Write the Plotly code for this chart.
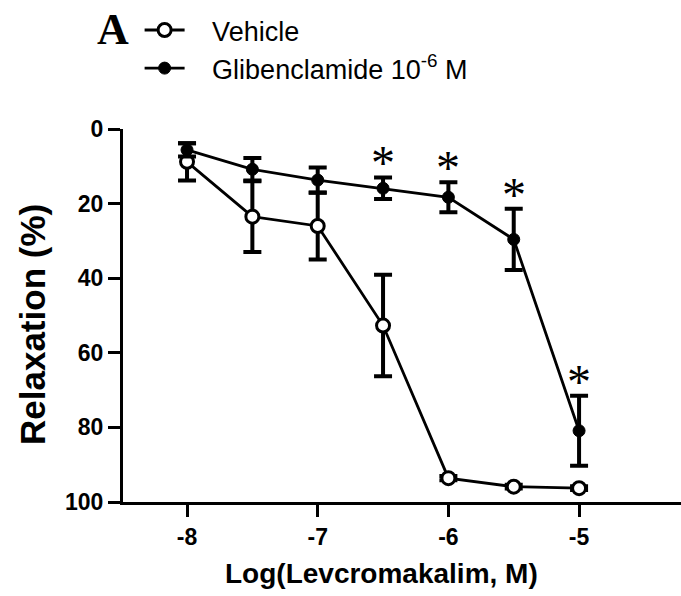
import plotly.graph_objects as go

# Data
log_dose = [-8, -7.5, -7, -6.5, -6, -5.5, -5]
vehicle_mean = [8.8, 23.5, 26.0, 52.7, 93.6, 95.9, 96.3]
vehicle_sem = [5.0, 9.5, 9.0, 13.6, 0.6, 0.5, 0.5]
glib_mean = [5.6, 10.8, 13.7, 15.9, 18.3, 29.6, 80.9]
glib_sem = [1.8, 3.0, 3.4, 2.9, 4.0, 8.2, 9.4]
significant = [False, False, False, True, True, True, True]
x_ticks = [-8, -7, -6, -5]
y_ticks = [0, 20, 40, 60, 80, 100]

SANS = "Arial, Liberation Sans, sans-serif"
SERIF = "Times New Roman, Liberation Serif, serif"

fig = go.Figure()

fig.add_trace(go.Scatter(
    x=log_dose, y=vehicle_mean, name="&nbsp;&nbsp;&nbsp;Vehicle", mode="lines+markers",
    legendgroup="a",
    line=dict(color="black", width=2.8),
    marker=dict(symbol="circle", size=13, color="white",
                line=dict(color="black", width=3)),
    error_y=dict(type="data", array=vehicle_sem, visible=True,
                 color="black", thickness=4, width=9),
))
fig.add_trace(go.Scatter(
    x=log_dose, y=glib_mean, name="&nbsp;&nbsp;&nbsp;Glibenclamide 10<sup>-6</sup> M",
    mode="lines+markers", legendgroup="b",
    line=dict(color="black", width=2.8),
    marker=dict(symbol="circle", size=12, color="black",
                line=dict(color="black", width=1)),
    error_y=dict(type="data", array=glib_sem, visible=True,
                 color="black", thickness=4, width=9),
))

for x, m, s, sig in zip(log_dose, glib_mean, glib_sem, significant):
    if sig:
        fig.add_annotation(x=x, y=m - s, text="*", showarrow=False,
                           yanchor="bottom", yshift=-14,
                           font=dict(family=SERIF, size=48, color="black"))

fig.add_annotation(xref="paper", yref="paper", x=-0.05, y=1.268,
                   xanchor="left", yanchor="middle", text="<b>A</b>",
                   showarrow=False,
                   font=dict(family=SERIF, size=44, color="black"))

fig.add_annotation(xref="paper", yref="paper", x=-0.161, y=0.475,
                   xanchor="center", yanchor="middle", textangle=-90,
                   text="<b>Relaxation (%)</b>", showarrow=False,
                   font=dict(family=SANS, size=35, color="black"))

fig.add_annotation(xref="paper", yref="paper", x=0.464, y=-0.193,
                   xanchor="center", yanchor="middle",
                   text="<b>Log(Levcromakalim, M)</b>", showarrow=False,
                   font=dict(family=SANS, size=28, color="black"))

fig.update_layout(
    width=681, height=596,
    margin=dict(l=123, r=0, t=129, b=94, autoexpand=False),
    paper_bgcolor="white", plot_bgcolor="white",
    showlegend=True,
    legend=dict(xref="container", yref="container", x=0.205, y=0.99,
                xanchor="left", yanchor="top",
                font=dict(family=SANS, size=27, color="black"),
                bgcolor="rgba(0,0,0,0)", tracegroupgap=0,
                itemwidth=40),
    xaxis=dict(range=[-8.49, -4.22], tickvals=x_ticks,
               ticktext=[str(t) for t in x_ticks],
               showgrid=False, zeroline=False,
               showline=True, linecolor="black", linewidth=3,
               ticks="outside", ticklen=12, tickwidth=3, tickcolor="black",
               tickfont=dict(family=SANS, size=23, color="black", weight="bold")),
    yaxis=dict(range=[100, 0], tickvals=y_ticks,
               showgrid=False, zeroline=False,
               showline=True, linecolor="black", linewidth=3,
               ticks="outside", ticklen=12, tickwidth=3, tickcolor="black",
               tickfont=dict(family=SANS, size=23, color="black", weight="bold")),
)

fig.write_html("out.html")
